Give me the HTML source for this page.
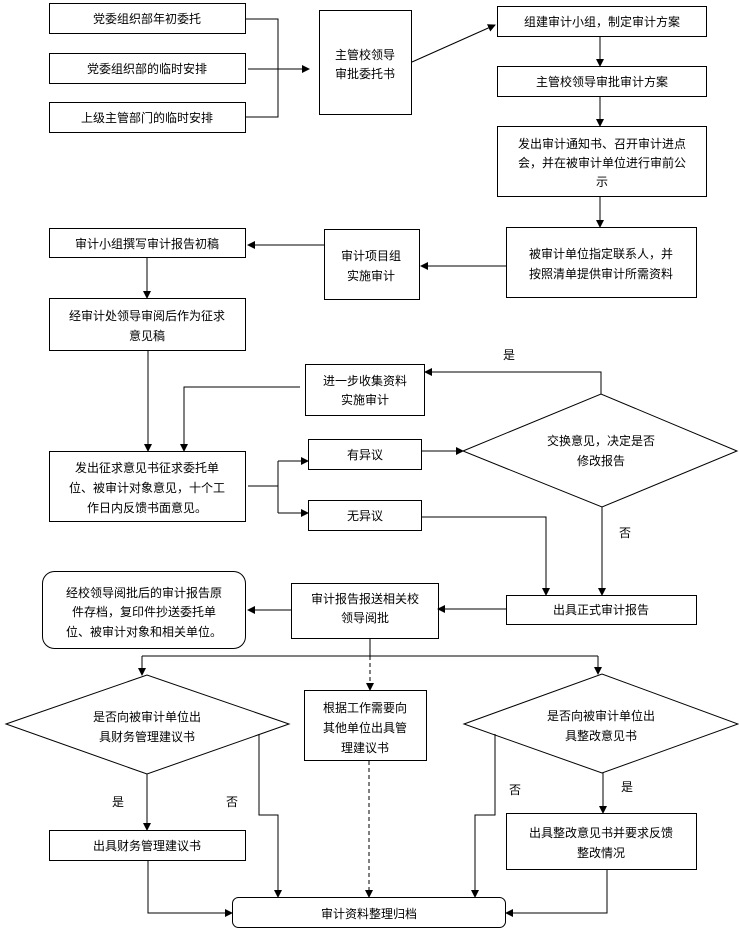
<!DOCTYPE html>
<html><head><meta charset="utf-8"><style>
html,body{margin:0;padding:0;background:#fff}
svg text{font-family:"Liberation Sans","Noto Sans CJK SC",sans-serif;font-size:12px;fill:#000;text-anchor:middle}
</style></head><body>
<svg width="739" height="930" viewBox="0 0 739 930" xmlns="http://www.w3.org/2000/svg">
<defs><marker id="a" markerWidth="8" markerHeight="8" refX="7" refY="4" orient="auto" markerUnits="userSpaceOnUse"><path d="M0,0 L8,4 L0,8 z" fill="#000"/></marker></defs>
<g fill="none" stroke="#000" stroke-width="1">
<rect x="49.5" y="3.5" width="196" height="30"/>
<rect x="49.5" y="53.5" width="196" height="30"/>
<rect x="49.5" y="102.5" width="196" height="30"/>
<polyline points="246,19 278,19 278,117 246,117"/>
<line x1="248" y1="69" x2="309" y2="69" marker-end="url(#a)"/>
<rect x="319.5" y="10.5" width="92" height="104"/>
<line x1="412" y1="62" x2="495" y2="25" marker-end="url(#a)"/>
<rect x="497.5" y="6.5" width="209" height="30"/>
<line x1="600" y1="37" x2="600" y2="66" marker-end="url(#a)"/>
<rect x="497.5" y="66.5" width="209" height="30"/>
<line x1="600" y1="97" x2="600" y2="126" marker-end="url(#a)"/>
<rect x="497.5" y="126.5" width="209" height="70"/>
<line x1="600" y1="197" x2="600" y2="227" marker-end="url(#a)"/>
<rect x="506.5" y="227.5" width="190" height="70"/>
<line x1="506" y1="266" x2="421" y2="266" marker-end="url(#a)"/>
<rect x="324.5" y="229.5" width="95" height="70"/>
<line x1="324" y1="245" x2="248" y2="245" marker-end="url(#a)"/>
<rect x="49.5" y="228.5" width="196" height="29"/>
<line x1="147" y1="258" x2="147" y2="298" marker-end="url(#a)"/>
<rect x="49.5" y="298.5" width="196" height="52"/>
<line x1="148" y1="351" x2="148" y2="451" marker-end="url(#a)"/>
<rect x="305.5" y="364.5" width="119" height="51"/>
<polyline points="601,394 601,372 425,372" marker-end="url(#a)"/>
<polyline points="300,387 184,387 184,451" marker-end="url(#a)"/>
<rect x="49.5" y="451.5" width="196" height="70"/>
<line x1="248" y1="486" x2="278" y2="486"/>
<polyline points="278,461 278,513"/>
<line x1="278" y1="461" x2="308" y2="461" marker-end="url(#a)"/>
<line x1="278" y1="513" x2="308" y2="513" marker-end="url(#a)"/>
<rect x="308.5" y="439.5" width="113" height="30"/>
<rect x="308.5" y="500.5" width="113" height="30"/>
<line x1="422" y1="451" x2="463" y2="451" marker-end="url(#a)"/>
<polygon points="463,451 601,394 737,451 602,507"/>
<line x1="602" y1="507" x2="602" y2="595" marker-end="url(#a)"/>
<polyline points="421,517 546,517 546,595" marker-end="url(#a)"/>
<rect x="506.5" y="595.5" width="190" height="29"/>
<line x1="506" y1="609" x2="438" y2="609" marker-end="url(#a)"/>
<rect x="291.5" y="583.5" width="147" height="55"/>
<line x1="291" y1="610" x2="248" y2="610" marker-end="url(#a)"/>
<rect x="42.5" y="571.5" width="203" height="77" rx="12"/>
<polyline points="370,639 370,656"/>
<line x1="142" y1="656" x2="598" y2="656"/>
<line x1="142" y1="656" x2="142" y2="675" marker-end="url(#a)"/>
<line x1="598" y1="656" x2="598" y2="674" marker-end="url(#a)"/>
<line x1="370" y1="656" x2="370" y2="690" stroke-dasharray="4,3" marker-end="url(#a)"/>
<rect x="304.5" y="690.5" width="122" height="70"/>
<line x1="369" y1="761" x2="369" y2="897" stroke-dasharray="4,3" marker-end="url(#a)"/>
<polygon points="6,724 147,675 289,724 147,774"/>
<line x1="147" y1="774" x2="147" y2="830" marker-end="url(#a)"/>
<rect x="49.5" y="830.5" width="196" height="30"/>
<polyline points="148,861 148,913 232,913" marker-end="url(#a)"/>
<polyline points="259,734 259,815 278,815 278,897" marker-end="url(#a)"/>
<rect x="232.5" y="897.5" width="273" height="30" rx="6"/>
<polygon points="464,724 602,674 738,724 602,773"/>
<line x1="603" y1="773" x2="603" y2="813" marker-end="url(#a)"/>
<rect x="506.5" y="813.5" width="190" height="56"/>
<polyline points="607,870 607,913 506,913" marker-end="url(#a)"/>
<polyline points="495,734 495,815 475,815 475,897" marker-end="url(#a)"/>
</g>
<text x="147" y="23">党委组织部年初委托</text>
<text x="147" y="73">党委组织部的临时安排</text>
<text x="147" y="122">上级主管部门的临时安排</text>
<text x="365" y="59">主管校领导</text>
<text x="365" y="78">审批委托书</text>
<text x="602" y="26">组建审计小组，制定审计方案</text>
<text x="602" y="86">主管校领导审批审计方案</text>
<text x="602" y="148">发出审计通知书、召开审计进点</text>
<text x="602" y="167">会，并在被审计单位进行审前公</text>
<text x="602" y="186">示</text>
<text x="601" y="258">被审计单位指定联系人，并</text>
<text x="601" y="278">按照清单提供审计所需资料</text>
<text x="371" y="260">审计项目组</text>
<text x="371" y="280">实施审计</text>
<text x="147" y="248">审计小组撰写审计报告初稿</text>
<text x="147" y="320">经审计处领导审阅后作为征求</text>
<text x="147" y="340">意见稿</text>
<text x="509" y="359">是</text>
<text x="365" y="385">进一步收集资料</text>
<text x="365" y="404">实施审计</text>
<text x="147" y="472">发出征求意见书征求委托单</text>
<text x="147" y="492">位、被审计对象意见，十个工</text>
<text x="147" y="512">作日内反馈书面意见。</text>
<text x="365" y="459">有异议</text>
<text x="365" y="520">无异议</text>
<text x="601" y="445">交换意见，决定是否</text>
<text x="601" y="465">修改报告</text>
<text x="625" y="537">否</text>
<text x="601" y="614">出具正式审计报告</text>
<text x="365" y="603">审计报告报送相关校</text>
<text x="365" y="622">领导阅批</text>
<text x="144" y="597">经校领导阅批后的审计报告原</text>
<text x="144" y="616">件存档，复印件抄送委托单</text>
<text x="144" y="636">位、被审计对象和相关单位。</text>
<text x="365" y="712">根据工作需要向</text>
<text x="365" y="732">其他单位出具管</text>
<text x="365" y="752">理建议书</text>
<text x="147" y="721">是否向被审计单位出</text>
<text x="147" y="741">具财务管理建议书</text>
<text x="118" y="806">是</text>
<text x="232" y="806">否</text>
<text x="147" y="850">出具财务管理建议书</text>
<text x="369" y="918">审计资料整理归档</text>
<text x="601" y="720">是否向被审计单位出</text>
<text x="601" y="740">具整改意见书</text>
<text x="627" y="791">是</text>
<text x="515" y="794">否</text>
<text x="601" y="837">出具整改意见书并要求反馈</text>
<text x="601" y="857">整改情况</text>
</svg>
</body></html>
